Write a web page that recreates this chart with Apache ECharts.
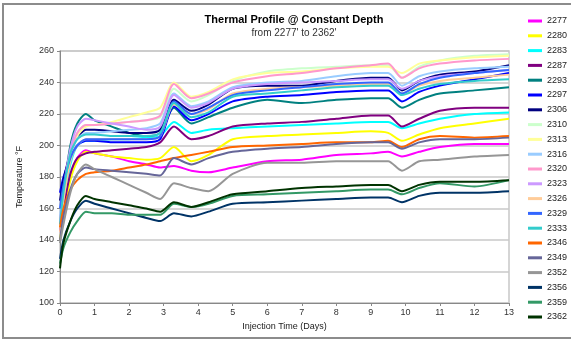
<!DOCTYPE html>
<html>
<head>
    <meta charset="utf-8">
    <title>Thermal Profile</title>
    <script src="https://cdn.jsdelivr.net/npm/echarts@6/dist/echarts.min.js"></script>
    <style>
        html, body { margin: 0; padding: 0; background: #fff; }
    </style>
</head>
<body>
<div id="main" style="width: 571px;height:341px;"></div>

<script type="text/javascript">
    // 时间轴 (天)
    var days = [0, 0.1, 0.3, 0.5, 0.75, 1, 1.5, 2, 2.5, 2.9, 3.3, 3.8, 4.3, 5, 6, 7, 8, 9, 9.5, 9.9, 10.4, 11, 12, 13];

    var depths = ['2277', '2280', '2283', '2287', '2293', '2297', '2306', '2310', '2313', '2316', '2320',
        '2323', '2326', '2329', '2333', '2346', '2349', '2352', '2356', '2359', '2362'];

    var colors = ['#ff00ff', '#ffff00', '#00ffff', '#800080', '#008080', '#0000ff', '#000080', '#ccffcc', '#ffff99',
        '#99ccff', '#ff99cc', '#cc99ff', '#ffcc99', '#3366ff', '#33cccc', '#ff6600', '#666699', '#969696',
        '#003366', '#339966', '#003300'];

    var t2277 = [145,160,180,192,197,195,193,190,188,186,187,184,183,186,190,191,194,195,196,193,196,199,201,201];
    var t2280 = [140,155,178,190,196,195,193,192,191,192,199,190,194,204,206,207,208,209,208,203,207,211,214,217];
    var t2283 = [150,165,188,200,203,203,204,204,205,206,215,208,210,211,212,213,214,215,215,211,214,217,220,221];
    var t2287 = [145,160,182,192,195,196,197,198,199,202,212,204,206,212,214,215,217,219,219,212,217,222,224,224];
    var t2293 = [150,170,200,214,220,216,212,208,206,208,224,214,218,224,229,227,229,230,230,224,229,233,235,237];
    var t2297 = [170,180,192,200,203,203,202,202,202,204,225,216,220,228,231,232,234,235,235,228,234,238,242,246];
    var t2306 = [165,178,195,205,210,210,209,208,208,210,229,222,226,236,238,238,241,243,243,235,241,245,247,251];
    var t2310 = [150,170,195,208,213,213,214,215,216,218,236,228,232,241,247,249,250,251,251,243,250,254,257,258];
    var t2313 = [148,168,193,206,212,213,215,218,221,224,240,231,234,242,246,247,249,250,250,246,252,254,256,257];
    var t2316 = [155,172,194,204,208,208,209,210,211,214,233,225,228,237,240,241,244,246,246,238,244,247,249,250];
    var t2320 = [150,170,195,208,213,213,214,215,216,219,239,230,233,240,244,246,249,251,252,243,249,252,254,255];
    var t2323 = [150,172,198,212,217,216,214,212,210,212,232,224,227,236,239,240,241,242,242,236,241,244,246,248];
    var t2326 = [145,165,190,200,204,204,204,204,204,206,226,220,223,233,236,237,238,239,239,233,238,241,243,245];
    var t2329 = [160,175,192,200,204,204,204,204,204,206,228,220,224,232,235,237,239,240,240,233,239,243,246,248];
    var t2333 = [150,170,195,204,207,207,206,206,206,208,227,218,221,231,233,235,237,238,238,232,236,239,241,242];
    var t2346 = [148,160,172,178,182,183,184,186,188,190,192,194,196,199,200,201,202,202,203,199,204,206,205,206];
    var t2349 = [140,155,172,182,186,185,184,183,182,181,192,188,192,196,198,199,201,202,202,198,202,204,204,205];
    var t2352 = [138,150,170,182,188,185,180,175,170,166,176,173,171,182,189,189,190,190,190,184,190,191,193,194];
    var t2356 = [128,140,152,160,165,163,160,157,154,152,157,155,158,163,164,165,166,167,167,164,168,170,170,171];
    var t2359 = [125,135,145,152,158,157,157,156,156,156,163,161,163,168,169,170,171,172,172,169,173,176,174,178];
    var t2362 = [122,138,152,162,168,166,164,162,160,158,164,161,164,169,171,173,174,175,175,171,175,177,177,178];

    var temps = [t2277, t2280, t2283, t2287, t2293, t2297, t2306, t2310, t2313, t2316, t2320,
        t2323, t2326, t2329, t2333, t2346, t2349, t2352, t2356, t2359, t2362];

    var font = 'Liberation Sans, Arial, sans-serif';

    var series = [];
    for (var i = 0; i < depths.length; i++) {
        var pts = [];
        for (var j = 0; j < days.length; j++) {
            pts.push([days[j], temps[i][j]]);
        }
        series.push({
            name: depths[i],
            type: 'line',
            data: pts,
            symbol: 'none',
            smooth: 0.25,
            lineStyle: { width: 2, color: colors[i] },
            itemStyle: { color: colors[i] }
        });
    }

    var myChart = echarts.init(document.getElementById('main'));
    myChart.setOption({
        animation: false,
        textStyle: { fontFamily: font },
        graphic: [{
            type: 'rect',
            shape: { x: 3, y: 4, width: 575, height: 334 },
            style: { fill: 'none', stroke: '#8c8c8c', lineWidth: 2 },
            silent: true
        }],
        title: {
            text: 'Thermal Profile @ Constant Depth',
            subtext: "from 2277' to 2362'",
            left: 289,
            textAlign: 'center',
            top: 9,
            itemGap: 3,
            textStyle: { fontSize: 11, fontWeight: 'bold', color: '#000', fontFamily: font },
            subtextStyle: { fontSize: 10, color: '#333', fontFamily: font }
        },
        legend: {
            orient: 'vertical',
            left: 528,
            top: 16,
            padding: 0,
            icon: 'rect',
            itemWidth: 14,
            itemHeight: 3,
            itemGap: 4.8,
            textStyle: { fontSize: 9, lineHeight: 10, color: '#222', fontFamily: font },
            data: depths
        },
        grid: { left: 60, right: 62, top: 51, bottom: 38, show: true, borderColor: '#c8c8c8', borderWidth: 1.5 },
        xAxis: {
            type: 'value',
            min: 0,
            max: 13,
            interval: 1,
            name: 'Injection Time (Days)',
            nameLocation: 'middle',
            nameGap: 17,
            nameTextStyle: { fontSize: 9, color: '#222' },
            axisLine: { lineStyle: { color: '#888' } },
            axisTick: { show: true, length: 3, lineStyle: { color: '#888' } },
            axisLabel: { fontSize: 9, color: '#333', margin: 5 },
            splitLine: { show: false }
        },
        yAxis: {
            type: 'value',
            min: 100,
            max: 260,
            interval: 20,
            name: 'Temperature °F',
            nameLocation: 'middle',
            nameGap: 36,
            nameTextStyle: { fontSize: 9, color: '#222' },
            axisLine: { show: true, lineStyle: { color: '#888' } },
            axisTick: { show: true, length: 3, lineStyle: { color: '#888' } },
            axisLabel: { fontSize: 9, color: '#333', margin: 6 },
            splitLine: { lineStyle: { color: '#c8c8c8', width: 1.5 } }
        },
        series: series
    });
</script>

</body>
</html>
